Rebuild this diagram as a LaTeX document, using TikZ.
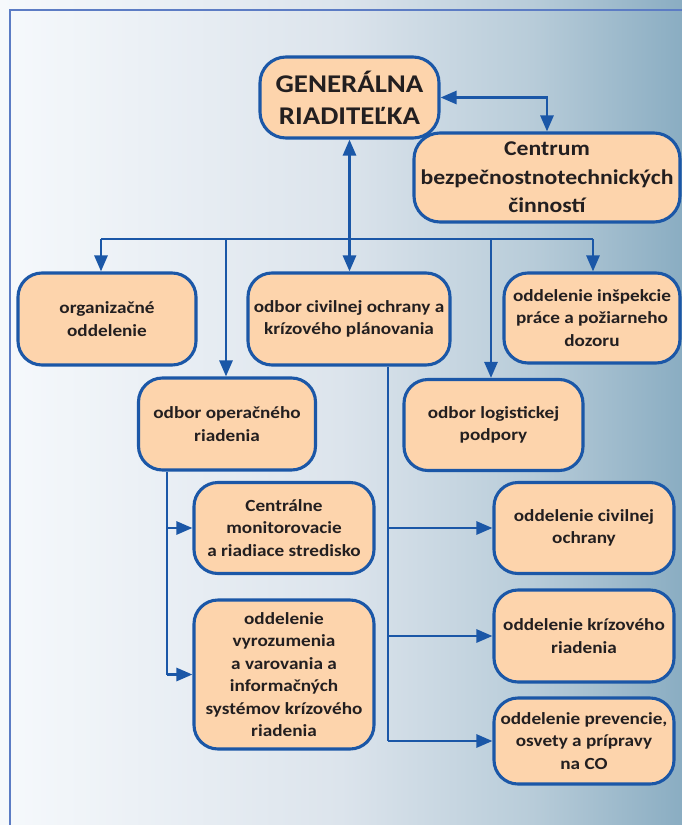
\documentclass[tikz,border=0pt]{standalone}
\usepackage{fontspec}
\setmainfont[FakeStretch=1.13]{Carlito}
\usetikzlibrary{arrows.meta}
\definecolor{boxfill}{HTML}{FDD4AC}
\definecolor{boxline}{HTML}{1B57A7}
\definecolor{frameline}{HTML}{5C7CC4}
\definecolor{txt}{HTML}{231F20}
\definecolor{bgA}{HTML}{F6F9FC}
\definecolor{bgB}{HTML}{DCE4EC}
\definecolor{bgC}{HTML}{B8CCD9}
\definecolor{bgD}{HTML}{8AADC2}
\pgfdeclarehorizontalshading{bgshade}{100bp}{color(0bp)=(bgA); color(25bp)=(bgA); color(50bp)=(bgB); color(64bp)=(bgC); color(75bp)=(bgD); color(100bp)=(bgD)}
\tikzset{
  box/.style={draw=boxline, line width=3.1pt, fill=boxfill, rounded corners=24pt,
    align=center, inner sep=0pt, text=txt,
    font=\bfseries\fontsize{17}{22.5}\selectfont},
  conn/.style={draw=boxline, line width=2.7pt},
  tip/.tip={Triangle[length=16pt,width=13pt]}
}
\begin{document}
\begin{tikzpicture}[x=1pt,y=-1pt]
\useasboundingbox (0,0) rectangle (682,825);
\shade[shading=bgshade] (0,0) rectangle (682,825);
\draw[frameline, line width=1.6pt] (10,825) -- (10,10) -- (682,10);

\node[box, minimum width=179pt, minimum height=81pt, rounded corners=26pt,
  font=\bfseries\fontsize{25.5}{32}\selectfont] (gr) at (349.5,97.5) {GENERÁLNA\\RIADITEĽKA};
\node[box, minimum width=266pt, minimum height=89pt, rounded corners=26pt,
  font=\bfseries\fontsize{21}{28.5}\selectfont] (cbt) at (547,177.5) {Centrum\\bezpečnostnotechnických\\činností};

\node[box, minimum width=178pt, minimum height=92pt] (org) at (107,319) {organizačné\\oddelenie};
\node[box, minimum width=202pt, minimum height=92pt] (ocp) at (349,319) {odbor civilnej ochrany a\\krízového plánovania};
\node[box, minimum width=176pt, minimum height=90pt] (oip) at (592,318) {oddelenie inšpekcie\\práce a požiarneho\\dozoru};
\node[box, minimum width=177pt, minimum height=92pt] (oor) at (227,424) {odbor operačného\\riadenia};
\node[box, minimum width=179pt, minimum height=91pt] (olp) at (493.5,425) {odbor logistickej\\podpory};
\node[box, minimum width=180pt, minimum height=91pt] (cms) at (284,528) {Centrálne\\monitorovacie\\a riadiace stredisko};
\node[box, minimum width=180pt, minimum height=149pt] (ovv) at (284,674.5) {oddelenie\\vyrozumenia\\a varovania a\\informačných\\systémov krízového\\riadenia};
\node[box, minimum width=180pt, minimum height=91pt] (occ) at (584,528) {oddelenie civilnej\\ochrany};
\node[box, minimum width=180pt, minimum height=92pt] (okr) at (584,636) {oddelenie krízového\\riadenia};
\node[box, minimum width=180pt, minimum height=86pt] (opp) at (584,741) {oddelenie prevencie,\\osvety a prípravy\\na CO};

% top connectors
\draw[conn, tip-tip] (gr.east) -- (cbt.north |- gr.east) -- (cbt.north);
\draw[conn, tip-tip] (gr.south) -- (gr.south |- ocp.north);

\coordinate (d1) at (101,239);
\coordinate (d2) at (226,239);
\coordinate (d4) at (491,239);
\coordinate (d5) at (593,239);
\draw[conn] (d1) -- (d5);
\draw[conn, -tip] (d1) -- (d1 |- org.north);
\draw[conn, -tip] (d2) -- (d2 |- oor.north);
\draw[conn, -tip] (d4) -- (d4 |- olp.north);
\draw[conn, -tip] (d5) -- (d5 |- oip.north);

% left trunk
\coordinate (t1) at (167,0);
\draw[conn] (t1 |- oor.south) -- (t1 |- ovv.west);
\draw[conn, -tip] (t1 |- cms.west) -- (cms.west);
\draw[conn, -tip] (t1 |- ovv.west) -- (ovv.west);

% right trunk
\coordinate (t2) at (388,0);
\draw[conn] (t2 |- ocp.south) -- (t2 |- opp.west);
\draw[conn, -tip] (t2 |- occ.west) -- (occ.west);
\draw[conn, -tip] (t2 |- okr.west) -- (okr.west);
\draw[conn, -tip] (t2 |- opp.west) -- (opp.west);
\end{tikzpicture}
\end{document}
